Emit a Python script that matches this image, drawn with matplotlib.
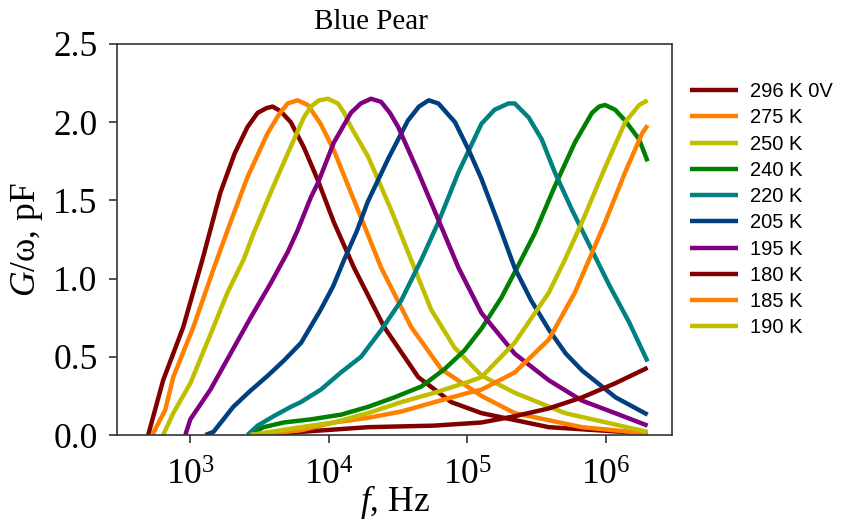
import matplotlib
matplotlib.use("Agg")
import matplotlib.pyplot as plt
import matplotlib.ticker as ticker
import numpy as np

plt.rcParams['font.family'] = ['Liberation Serif', 'DejaVu Serif']
plt.rcParams['mathtext.fontset'] = 'custom'
plt.rcParams['mathtext.rm'] = 'Liberation Serif'
plt.rcParams['mathtext.it'] = 'Liberation Serif:italic'

# log10(f / Hz) and G/omega (pF), one pair per temperature
lgf_296 = [2.696, 2.804, 2.949, 3.087, 3.217, 3.32, 3.413, 3.486, 3.55, 3.594, 3.652, 3.725, 3.819,
           3.920, 4.036, 4.181, 4.399, 4.645, 4.884, 5.101, 5.587, 6.300]
g_296 = [0.00, 0.35, 0.69, 1.12, 1.55, 1.80, 1.97, 2.06, 2.09, 2.10, 2.07, 2.00, 1.84,
         1.63, 1.36, 1.07, 0.69, 0.37, 0.21, 0.14, 0.05, 0.01]

lgf_275 = [2.725, 2.819, 2.877, 3.022, 3.167, 3.290, 3.413, 3.558, 3.64, 3.703, 3.775, 3.848,
           3.94, 4.036, 4.232, 4.377, 4.594, 4.812, 5.101, 5.341, 5.826, 6.300]
g_275 = [0.00, 0.16, 0.37, 0.69, 1.06, 1.36, 1.65, 1.93, 2.05, 2.12, 2.14, 2.11,
         1.99, 1.82, 1.39, 1.07, 0.69, 0.42, 0.25, 0.14, 0.05, 0.01]

lgf_250 = [2.804, 2.877, 3.000, 3.167, 3.268, 3.384, 3.457, 3.580, 3.703, 3.819, 3.870, 3.93,
           3.993, 4.065, 4.11, 4.159, 4.283, 4.449, 4.616, 4.739, 4.906, 5.101, 5.341, 5.703, 6.300]
g_250 = [0.00, 0.14, 0.33, 0.69, 0.91, 1.12, 1.29, 1.55, 1.80, 2.03, 2.10, 2.14,
         2.15, 2.12, 2.06, 1.97, 1.78, 1.44, 1.07, 0.80, 0.56, 0.38, 0.27, 0.14, 0.02]

lgf_240 = [3.413, 3.529, 3.674, 3.870, 4.087, 4.283, 4.471, 4.667, 4.833, 4.978, 5.101, 5.246,
           5.370, 5.486, 5.630, 5.775, 5.899, 5.95, 5.993, 6.065, 6.138, 6.239, 6.300]
g_240 = [0.00, 0.05, 0.08, 0.10, 0.13, 0.18, 0.24, 0.31, 0.42, 0.54, 0.68, 0.88,
         1.09, 1.29, 1.59, 1.87, 2.06, 2.10, 2.11, 2.08, 2.01, 1.89, 1.75]

lgf_220 = [3.413, 3.486, 3.601, 3.725, 3.797, 3.942, 4.087, 4.232, 4.377, 4.522, 4.667, 4.790,
           4.935, 5.101, 5.196, 5.297, 5.341, 5.442, 5.536, 5.630, 5.754, 5.899, 6.022, 6.167, 6.300]
g_220 = [0.00, 0.06, 0.12, 0.18, 0.21, 0.29, 0.40, 0.50, 0.67, 0.86, 1.12, 1.36,
         1.68, 1.99, 2.08, 2.12, 2.12, 2.03, 1.89, 1.68, 1.44, 1.18, 0.96, 0.72, 0.47]

lgf_205 = [3.109, 3.167, 3.239, 3.31, 3.43, 3.56, 3.68, 3.80, 3.94, 4.03, 4.11, 4.20, 4.28,
           4.43, 4.57, 4.65, 4.72, 4.79, 4.91, 5.01, 5.10, 5.22, 5.34, 5.46, 5.59, 5.71, 5.83,
           6.07, 6.30]
g_205 = [0.00, 0.02, 0.10, 0.18, 0.28, 0.38, 0.48, 0.59, 0.80, 0.95, 1.12, 1.30, 1.49,
         1.77, 2.01, 2.10, 2.14, 2.12, 2.00, 1.82, 1.64, 1.36, 1.07, 0.86, 0.67, 0.52, 0.41,
         0.24, 0.13]

lgf_195 = [2.964, 3.000, 3.145, 3.290, 3.435, 3.580, 3.703, 3.775, 3.870, 3.920, 4.036, 4.159,
           4.23, 4.304, 4.377, 4.44, 4.500, 4.645, 4.812, 4.935, 5.101, 5.341, 5.587, 5.826,
           6.065, 6.300]
g_195 = [0.00, 0.10, 0.29, 0.52, 0.75, 0.97, 1.17, 1.31, 1.52, 1.61, 1.87, 2.06,
         2.12, 2.15, 2.13, 2.06, 1.97, 1.68, 1.33, 1.07, 0.78, 0.52, 0.35, 0.22,
         0.14, 0.06]

lgf_180 = [3.529, 3.797, 4.283, 4.761, 5.101, 5.341, 5.587, 5.826, 6.065, 6.300]
g_180 = [0.00, 0.02, 0.05, 0.06, 0.08, 0.12, 0.17, 0.24, 0.33, 0.43]

lgf_185 = [3.435, 3.797, 4.036, 4.283, 4.522, 4.761, 5.007, 5.101, 5.341, 5.587, 5.775, 5.877,
           5.993, 6.138, 6.261, 6.300]
g_185 = [0.00, 0.03, 0.08, 0.11, 0.15, 0.21, 0.27, 0.29, 0.40, 0.61, 0.91, 1.12,
         1.36, 1.68, 1.93, 1.98]

lgf_190 = [3.435, 3.580, 3.797, 4.036, 4.283, 4.522, 4.761, 5.007, 5.101, 5.341, 5.587, 5.703,
           5.826, 5.993, 6.138, 6.239, 6.300]
g_190 = [0.00, 0.02, 0.05, 0.08, 0.14, 0.21, 0.27, 0.34, 0.37, 0.59, 0.91, 1.12,
         1.36, 1.71, 2.00, 2.11, 2.14]

labels = ['296 K 0V', '275 K', '250 K', '240 K', '220 K', '205 K', '195 K', '180 K', '185 K', '190 K']
colors = ['#800000', '#FF8000', '#BFBF00', '#008000', '#008080', '#004080', '#800080',
          '#800000', '#FF8000', '#BFBF00']
series = [(lgf_296, g_296), (lgf_275, g_275), (lgf_250, g_250), (lgf_240, g_240),
          (lgf_220, g_220), (lgf_205, g_205), (lgf_195, g_195), (lgf_180, g_180),
          (lgf_185, g_185), (lgf_190, g_190)]

fig = plt.figure(figsize=(8.42, 5.2), dpi=100)
ax = fig.add_axes([117 / 842, 85 / 520, 555 / 842, 391 / 520])

for (lgf, g), color, label in zip(series, colors, labels):
    ax.plot(10 ** np.array(lgf), g, color=color, lw=3.2, label=label,
            solid_joinstyle='round', solid_capstyle='butt')

ax.set_xscale('log')
ax.set_xlim(10 ** 2.471, 10 ** 6.476)
ax.set_ylim(0, 2.5)
ax.xaxis.set_major_locator(ticker.FixedLocator([1e3, 1e4, 1e5, 1e6]))
ax.xaxis.set_minor_locator(ticker.NullLocator())
ax.yaxis.set_major_locator(ticker.MultipleLocator(0.5))
ax.yaxis.set_major_formatter(ticker.FormatStrFormatter('%.1f'))

for spine in ax.spines.values():
    spine.set_linewidth(1.2)
    spine.set_color('#333333')
ax.tick_params(axis='both', direction='out', length=6, width=1.2, color='#333333',
               labelsize=25.5)
ax.tick_params(axis='x', pad=12)
ax.tick_params(axis='y', pad=8)

ax.set_xlabel(r'$f$, Hz', fontsize=25.5, labelpad=-7)
ax.set_ylabel(r'$G$/ω, pF', fontsize=25.5, labelpad=6)
fig.text(371 / 842, 1 - 22 / 520, 'Blue Pear', fontsize=21, ha='center', va='center')

leg = ax.legend(loc='upper left', bbox_to_anchor=(682 / 842, 1 - 74 / 520),
                bbox_transform=fig.transFigure, frameon=False,
                prop={'family': 'Liberation Sans', 'size': 14.5},
                handlelength=2.4, handletextpad=0.6, labelspacing=0.36, borderaxespad=0)

fig.savefig('out.png', dpi=100)
